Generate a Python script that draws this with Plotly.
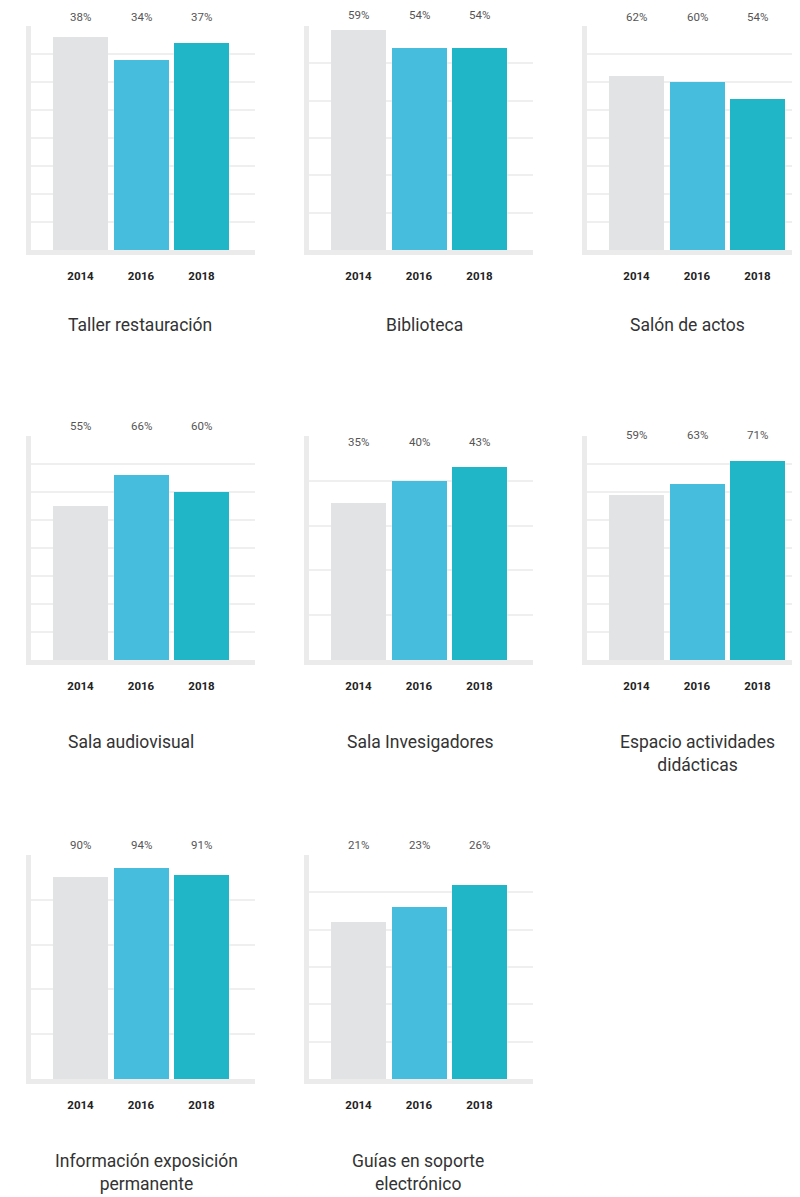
import plotly.graph_objects as go

# ---- data ----
categories = ["Taller restauración", "Biblioteca", "Salón de actos",
              "Sala audiovisual", "Sala Invesigadores", "Espacio actividades didácticas",
              "Información exposición permanente", "Guías en soporte electrónico"]
titles = ["Taller restauración", "Biblioteca", "Salón de actos",
          "Sala audiovisual", "Sala Invesigadores", "Espacio actividades<br>didácticas",
          "Información exposición<br>permanente", "Guías en soporte<br>electrónico"]
years = ["2014", "2016", "2018"]
v2014 = [38, 59, 62, 55, 35, 59, 90, 21]
v2016 = [34, 54, 60, 66, 40, 63, 94, 23]
v2018 = [37, 54, 54, 60, 43, 71, 91, 26]
ymax = [40, 60, 80, 80, 50, 80, 100, 30]
ystep = [5, 10, 10, 10, 10, 10, 20, 5]

# ---- style ----
colors = ["#e2e3e5", "#47bddd", "#21b5c8"]
W, H = 800, 1197
SH = 8  # page offset compensation
col_left = [31 - SH, 309 - SH, 587 - SH]
row_top = [26 - SH, 436 - SH, 855 - SH]
title_gap = [63, 70, 70]
title_x = [140, 424, 687, 131, 420, 697, 146, 418]
plot_w, plot_h = 224, 224
pitch = 60.5
label_off = [9, 11, 9, 10, -6, 1, 10, 10]   # px above plot top for value labels
FONT = "Roboto"

fig = go.Figure()
annotations = []
layout = {}
for i, cat in enumerate(categories):
    r, c = divmod(i, 3)
    n = i + 1
    xa = "xaxis" if n == 1 else f"xaxis{n}"
    ya = "yaxis" if n == 1 else f"yaxis{n}"
    xr = "x" if n == 1 else f"x{n}"
    yr = "y" if n == 1 else f"y{n}"
    vals = [v2014[i], v2016[i], v2018[i]]
    fig.add_trace(go.Bar(x=years, y=vals, marker=dict(color=colors, line=dict(width=0)),
                         width=[55 / pitch] * 3, xaxis=xr, yaxis=yr, showlegend=False,
                         hoverinfo="skip"))
    x0 = col_left[c]
    x1 = min(x0 + plot_w, W)
    xmin = -(80.5 - 31) / pitch
    xmax = xmin + (x1 - x0) / pitch
    y0 = row_top[r]
    y1 = y0 + plot_h
    layout[xa] = dict(domain=[x0 / W, x1 / W], anchor=yr, range=[xmin, xmax],
                      type="category", showgrid=False, zeroline=False,
                      showline=True, linecolor="#ebebeb", linewidth=5,
                      ticks="outside", ticklen=11, tickcolor="rgba(0,0,0,0)",
                      tickfont=dict(family=FONT, size=11.5, color="#222", weight="bold"),
                      fixedrange=True)
    tv = [k * ystep[i] for k in range(1, int(ymax[i] / ystep[i]))]
    layout[ya] = dict(domain=[1 - y1 / H, 1 - y0 / H], anchor=xr, range=[0, ymax[i]],
                      tickvals=tv, showticklabels=False, showgrid=True,
                      gridcolor="#efefef", gridwidth=2, zeroline=False,
                      showline=True, linecolor="#ebebeb", linewidth=5,
                      fixedrange=True)
    for j, v in enumerate(vals):
        annotations.append(dict(x=j, xref=xr, y=1 + label_off[i] / plot_h,
                                yref=f"{yr} domain", text=f"{v}%", showarrow=False,
                                xanchor="center", yanchor="middle",
                                font=dict(family=FONT, size=11.5, color="#555")))
    annotations.append(dict(x=(title_x[i] - SH) / W, xref="paper",
                            y=1 - (y1 + title_gap[r]) / H, yref="paper",
                            text=titles[i], showarrow=False, yanchor="top",
                            xanchor="center",
                            font=dict(family=FONT, size=17.5, color="#333")))

fig.update_layout(width=W, height=H, margin=dict(l=0, r=0, t=0, b=0),
                  paper_bgcolor="white", plot_bgcolor="white",
                  annotations=annotations, bargap=0, **layout)
fig.write_html("out.html")
